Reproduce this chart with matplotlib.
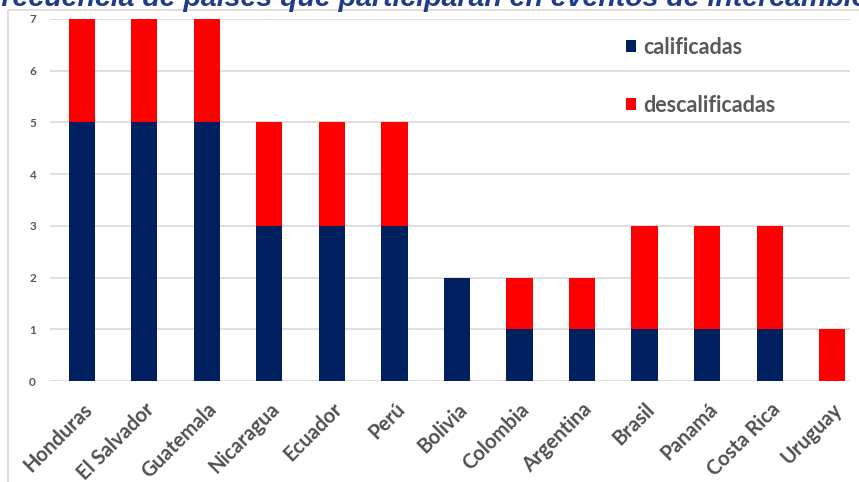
import matplotlib.pyplot as plt
from matplotlib.patches import Rectangle

paises = ['Honduras', 'El Salvador', 'Guatemala', 'Nicaragua', 'Ecuador', 'Perú',
          'Bolivia', 'Colombia', 'Argentina', 'Brasil', 'Panamá', 'Costa Rica', 'Uruguay']
calificadas = [5, 5, 5, 3, 3, 3, 2, 1, 1, 1, 1, 1, 0]
descalificadas = [2, 2, 2, 2, 2, 2, 0, 1, 1, 2, 2, 2, 1]

plt.rcParams['font.family'] = ['Lato', 'DejaVu Sans']

fig = plt.figure(figsize=(8.59, 4.82), dpi=100)
ax = fig.add_axes([0.058, 0.2095, 0.932, 0.7511])

# borde del grafico (captura recortada)
fig.patches.append(Rectangle((8 / 859, -0.1), 1.2, 1 - 10 / 482 + 0.1, transform=fig.transFigure,
                             fill=False, edgecolor='#d9d9d9', linewidth=1.2))

x = range(len(paises))
ax.bar(x, calificadas, 0.42, color='#002060', label='calificadas', zorder=3)
ax.bar(x, descalificadas, 0.42, bottom=calificadas, color='#ff0000', label='descalificadas', zorder=3)

ax.set_ylim(0, 7)
ax.set_xlim(-0.51, 12.29)
ax.set_yticks(range(8))
ax.grid(axis='y', color='#d9d9d9', linewidth=1.2, zorder=0)
for s in ax.spines.values():
    s.set_visible(False)
ax.tick_params(axis='both', length=0)
ax.tick_params(axis='y', labelsize=8.5, labelcolor='#595959', pad=10)
for t in ax.get_yticklabels():
    t.set_fontweight('bold')
ax.set_xticks(list(x))
ax.set_xticklabels(paises, rotation=45, ha='right', rotation_mode='anchor',
                   fontsize=14.5, fontweight='bold', color='#505050')
ax.tick_params(axis='x', pad=13)

ax.legend(loc='upper left', bbox_to_anchor=(0.695, 1.004), frameon=False,
          prop={'size': 15.5, 'weight': 'bold'},
          labelcolor='#595959', handlelength=0.5, handleheight=0.5, handletextpad=0.3,
          labelspacing=1.7)

fig.text(0.497, 1 - 6 / 482, 'Frecuencia de países que participaran en eventos de intercambio',
         ha='center', va='baseline', fontsize=20.5, fontweight='bold', fontstyle='italic',
         color='#1f3c88', family='Liberation Sans')

fig.savefig('out.png', dpi=100)
